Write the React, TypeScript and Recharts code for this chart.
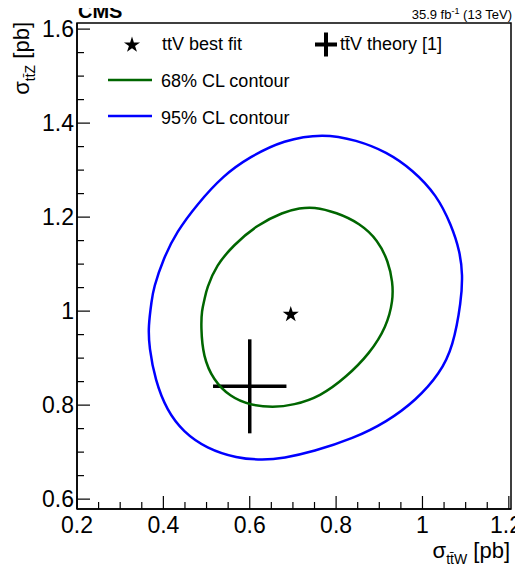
import React from "react";
import { ComposedChart, ErrorBar, Label, ReferenceArea, Scatter, Symbols, XAxis, YAxis } from "recharts";

const FONT = '"Liberation Sans", Arial, Helvetica, sans-serif';
const BLUE = "#0000ff";
const GREEN = "#006600";

// axis ticks (ROOT style: minor every 0.05, labels every 0.2)
const X_TICKS = [
  0.2, 0.25, 0.3, 0.35, 0.4, 0.45, 0.5, 0.55, 0.6, 0.65, 0.7, 0.75, 0.8, 0.85, 0.9, 0.95, 1,
  1.05, 1.1, 1.15, 1.2,
];
const X_LABELS = [0.2, 0.4, 0.6, 0.8, 1, 1.2];
const Y_TICKS = [
  0.6, 0.65, 0.7, 0.75, 0.8, 0.85, 0.9, 0.95, 1, 1.05, 1.1, 1.15, 1.2, 1.25, 1.3, 1.35, 1.4,
  1.45, 1.5, 1.55, 1.6,
];
const Y_LABELS = [0.6, 0.8, 1, 1.2, 1.4, 1.6];

// 68% CL contour (sigma_ttW, sigma_ttZ), closed loop
const CONTOUR_68 = [
  { x: 0.747, y: 1.222 },
  { x: 0.801, y: 1.21 },
  { x: 0.855, y: 1.187 },
  { x: 0.897, y: 1.151 },
  { x: 0.921, y: 1.105 },
  { x: 0.931, y: 1.062 },
  { x: 0.932, y: 1.023 },
  { x: 0.917, y: 0.967 },
  { x: 0.878, y: 0.91 },
  { x: 0.824, y: 0.86 },
  { x: 0.763, y: 0.818 },
  { x: 0.701, y: 0.8 },
  { x: 0.654, y: 0.795 },
  { x: 0.6, y: 0.8 },
  { x: 0.554, y: 0.818 },
  { x: 0.516, y: 0.853 },
  { x: 0.492, y: 0.903 },
  { x: 0.487, y: 0.967 },
  { x: 0.489, y: 1.002 },
  { x: 0.495, y: 1.023 },
  { x: 0.5, y: 1.048 },
  { x: 0.523, y: 1.098 },
  { x: 0.562, y: 1.14 },
  { x: 0.616, y: 1.183 },
  { x: 0.678, y: 1.211 },
  { x: 0.716, y: 1.219 },
];

// 95% CL contour, closed loop
const CONTOUR_95 = [
  { x: 0.77, y: 1.378 },
  { x: 0.847, y: 1.364 },
  { x: 0.917, y: 1.339 },
  { x: 0.978, y: 1.3 },
  { x: 1.033, y: 1.247 },
  { x: 1.067, y: 1.183 },
  { x: 1.087, y: 1.126 },
  { x: 1.093, y: 1.077 },
  { x: 1.09, y: 1.023 },
  { x: 1.071, y: 0.924 },
  { x: 1.04, y: 0.867 },
  { x: 0.986, y: 0.811 },
  { x: 0.917, y: 0.764 },
  { x: 0.84, y: 0.729 },
  { x: 0.747, y: 0.701 },
  { x: 0.678, y: 0.687 },
  { x: 0.631, y: 0.683 },
  { x: 0.57, y: 0.687 },
  { x: 0.5, y: 0.708 },
  { x: 0.446, y: 0.743 },
  { x: 0.408, y: 0.789 },
  { x: 0.381, y: 0.853 },
  { x: 0.367, y: 0.924 },
  { x: 0.365, y: 0.967 },
  { x: 0.373, y: 1.023 },
  { x: 0.377, y: 1.048 },
  { x: 0.4, y: 1.112 },
  { x: 0.431, y: 1.169 },
  { x: 0.477, y: 1.226 },
  { x: 0.539, y: 1.289 },
  { x: 0.6, y: 1.328 },
  { x: 0.678, y: 1.364 },
];

const BEST_FIT = [{ x: 0.695, y: 0.993 }];
const THEORY = [{ x: 0.6, y: 0.84, ex: 0.085, ey: 0.1 }];

const X_DOMAIN = [0.2, 1.205];
const Y_DOMAIN = [0.579, 1.613];

const W = 523;
const H = 574;
const STAR_SIZE = 80;

function isLabelled(value: number, labels: number[]) {
  return labels.some((l) => Math.abs(l - value) < 1e-6);
}

function NoMarker() {
  return null;
}

function StarMarker(props: any) {
  return <Symbols cx={props.cx} cy={props.cy} type="star" size={STAR_SIZE} fill="#000" />;
}

function XTick(props: any) {
  const { x, y, payload } = props;
  const major = isLabelled(payload.value, X_LABELS);
  // keep the last label inside the canvas, like the reference
  const tx = Math.min(x, W - 17);
  return (
    <g>
      <line x1={x} x2={x} y1={y} y2={y - (major ? 13 : 7)} stroke="#000" strokeWidth={1.2} />
      {major ? (
        <text x={tx} y={y + 24} textAnchor="middle" fontSize={23} fontFamily={FONT} fill="#000">
          {String(payload.value)}
        </text>
      ) : null}
    </g>
  );
}

function YTick(props: any) {
  const { x, y, payload } = props;
  const major = isLabelled(payload.value, Y_LABELS);
  return (
    <g>
      <line x1={x} x2={x + (major ? 13 : 7)} y1={y} y2={y} stroke="#000" strokeWidth={1.2} />
      {major ? (
        <text x={x - 3} y={y + 8} textAnchor="end" fontSize={23} fontFamily={FONT} fill="#000">
          {String(payload.value)}
        </text>
      ) : null}
    </g>
  );
}

function XTitle(props: any) {
  const { x, y, width } = props.viewBox;
  return (
    <text x={x + width - 1} y={y + 49} textAnchor="end" fontSize={22} fontFamily={FONT} fill="#000">
      σ
      <tspan fontSize={14} dy={6}>
        tt̄W
      </tspan>
      <tspan dy={-6}> [pb]</tspan>
    </text>
  );
}

function YTitle(props: any) {
  const { x, y } = props.viewBox;
  const tx = x + 12;
  const ty = y - 1;
  return (
    <text
      x={tx}
      y={ty}
      transform={`rotate(-90 ${tx} ${ty})`}
      textAnchor="end"
      fontSize={22}
      fontFamily={FONT}
      fill="#000"
    >
      σ
      <tspan fontSize={14} dy={6}>
        tt̄Z
      </tspan>
      <tspan dy={-6}> [pb]</tspan>
    </text>
  );
}

function LegendText({ left, top, children }: { left: number; top: number; children: React.ReactNode }) {
  return (
    <div style={{ position: "absolute", left, top, lineHeight: "22px", whiteSpace: "nowrap" }}>
      {children}
    </div>
  );
}

function Overlay() {
  return (
    <div
      style={{
        position: "absolute",
        left: 0,
        top: 0,
        width: W,
        height: 140,
        fontFamily: FONT,
        fontSize: 18,
        color: "#000",
        pointerEvents: "none",
      }}
    >
      <svg width={W} height={140} style={{ position: "absolute", left: 0, top: 0, overflow: "visible" }}>
        <text x={78} y={17.5} fontSize={20} fontWeight="bold" fontFamily={FONT} fill="#000">
          CMS
        </text>
        <text x={512} y={18.5} fontSize={13} textAnchor="end" fontFamily={FONT} fill="#000">
          35.9 fb
          <tspan fontSize={9} dy={-5}>
            -1
          </tspan>
          <tspan dy={5}> (13 TeV)</tspan>
        </text>
        <Symbols cx={132} cy={45} type="star" size={STAR_SIZE} fill="#000" />
        <line x1={315} x2={337} y1={44.5} y2={44.5} stroke="#000" strokeWidth={4} />
        <line x1={326} x2={326} y1={32.5} y2={56.5} stroke="#000" strokeWidth={4} />
        <line x1={108} x2={152} y1={80} y2={80} stroke={GREEN} strokeWidth={2.5} />
        <line x1={108} x2={152} y1={116} y2={116} stroke={BLUE} strokeWidth={2.5} />
      </svg>
      <LegendText left={162} top={33}>ttV best fit</LegendText>
      <LegendText left={340} top={33}>tt̄V theory [1]</LegendText>
      <LegendText left={161} top={70}>68% CL contour</LegendText>
      <LegendText left={161} top={107}>95% CL contour</LegendText>
    </div>
  );
}

export default function App() {
  const axisLine = { stroke: "#000", strokeWidth: 1.5 };
  return (
    <div style={{ position: "relative", width: W, height: H, margin: -8, fontFamily: FONT }}>
      <ComposedChart width={W} height={H} margin={{ top: 23, right: 12, bottom: 15, left: 17 }}>
        <XAxis
          type="number"
          dataKey="x"
          domain={X_DOMAIN}
          allowDataOverflow
          ticks={X_TICKS}
          interval={0}
          tickSize={0}
          tickMargin={0}
          tickLine={false}
          tick={XTick}
          axisLine={axisLine}
          height={50}
        >
          <Label content={XTitle} />
        </XAxis>
        <YAxis
          type="number"
          dataKey="y"
          domain={Y_DOMAIN}
          allowDataOverflow
          ticks={Y_TICKS}
          interval={0}
          tickSize={0}
          tickMargin={0}
          tickLine={false}
          tick={YTick}
          axisLine={axisLine}
          width={60}
        >
          <Label content={YTitle} />
        </YAxis>
        <ReferenceArea
          x1={X_DOMAIN[0]}
          x2={X_DOMAIN[1]}
          y1={Y_DOMAIN[0]}
          y2={Y_DOMAIN[1]}
          fill="none"
          stroke="#000"
          strokeWidth={1.5}
        />
        <Scatter
          name="95% CL contour"
          data={CONTOUR_95}
          line={{ stroke: BLUE, strokeWidth: 2.5 }}
          lineType="joint"
          lineJointType="basisClosed"
          shape={NoMarker}
          isAnimationActive={false}
        />
        <Scatter
          name="68% CL contour"
          data={CONTOUR_68}
          line={{ stroke: GREEN, strokeWidth: 2.5 }}
          lineType="joint"
          lineJointType="basisClosed"
          shape={NoMarker}
          isAnimationActive={false}
        />
        <Scatter name="theory" data={THEORY} shape={NoMarker} isAnimationActive={false}>
          <ErrorBar dataKey="ex" direction="x" width={0} stroke="#000" strokeWidth={3.5} isAnimationActive={false} />
          <ErrorBar dataKey="ey" direction="y" width={0} stroke="#000" strokeWidth={3.5} isAnimationActive={false} />
        </Scatter>
        <Scatter name="best fit" data={BEST_FIT} shape={StarMarker} isAnimationActive={false} />
      </ComposedChart>
      <Overlay />
    </div>
  );
}
